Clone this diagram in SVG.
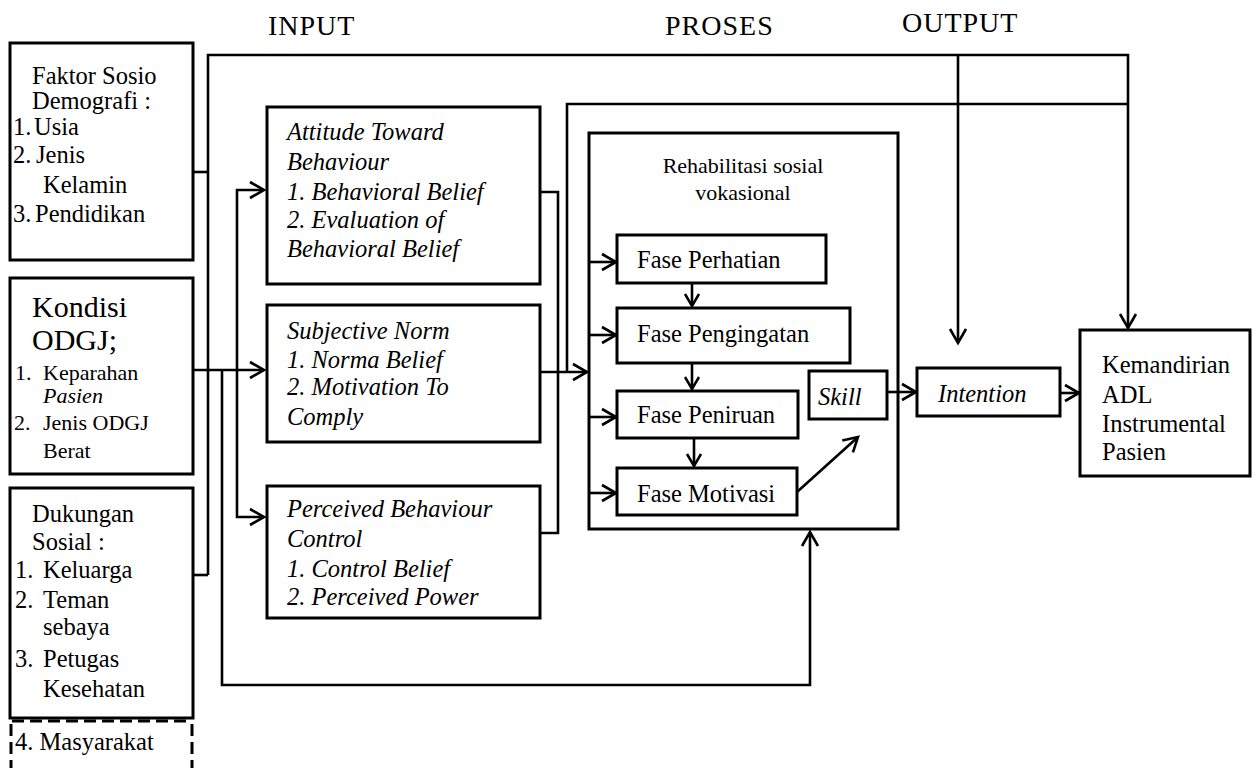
<svg xmlns="http://www.w3.org/2000/svg" width="1258" height="772" viewBox="0 0 1258 772">
  <defs>
    <style>
      .box { fill: none; stroke: #000; stroke-width: 3; }
      .dash { fill: none; stroke: #000; stroke-width: 3; stroke-dasharray: 12 6; }
      .ln { fill: none; stroke: #000; stroke-width: 2.6; stroke-linejoin: miter; }
      .t { font-family: "Liberation Serif", "Times New Roman", serif; font-size: 24.5px; fill: #000; }
      .i { font-style: italic; }
      .h { font-size: 28px; letter-spacing: 1px; }
      .big { font-size: 30px; }
      .sm { font-size: 22px; }
    </style>
    <marker id="arr" markerUnits="userSpaceOnUse" markerWidth="20" markerHeight="20" viewBox="0 0 20 20" refX="17" refY="10" orient="auto">
      <path d="M3,2 L17,10 L3,18" fill="none" stroke="#000" stroke-width="2.6"/>
    </marker>
    <marker id="arrs" markerUnits="userSpaceOnUse" markerWidth="18" markerHeight="18" viewBox="0 0 18 18" refX="14" refY="9" orient="auto">
      <path d="M2,2 L14,9 L2,16" fill="none" stroke="#000" stroke-width="2.5"/>
    </marker>
  </defs>
  <rect width="1258" height="772" fill="#fff"/>

  <!-- column headings -->
  <g id="headings">
    <text class="t h" x="268" y="35">INPUT</text>
    <text class="t h" x="665" y="35">PROSES</text>
    <text class="t h" x="902" y="32">OUTPUT</text>
  </g>

  <!-- connectors -->
  <g id="connectors">
    <!-- socio-demographic and social support feed the main vertical -->
    <polyline class="ln" points="193,172 208,172"/>
    <polyline class="ln" points="193,575 208,575"/>
    <polyline class="ln" points="208,575 208,55 1128,55 1128,328" marker-end="url(#arr)"/>
    <polyline class="ln" points="958,55 958,343" marker-end="url(#arr)"/>
    <!-- ODGJ condition to the three TPB components -->
    <polyline class="ln" points="193,370 264,370" marker-end="url(#arr)"/>
    <polyline class="ln" points="237,370 237,190 264,190" marker-end="url(#arr)"/>
    <polyline class="ln" points="237,370 237,517 264,517" marker-end="url(#arr)"/>
    <!-- ODGJ condition to the rehabilitation block from below -->
    <polyline class="ln" points="222,370 222,685 810,685 810,532" marker-end="url(#arr)"/>
    <!-- TPB components collected into the rehabilitation block -->
    <polyline class="ln" points="540,192 558,192 558,533 540,533"/>
    <polyline class="ln" points="540,372 587,372" marker-end="url(#arr)"/>
    <polyline class="ln" points="567,372 567,104 1128,104"/>
    <!-- phase inputs -->
    <polyline class="ln" points="589,262 616,262" marker-end="url(#arr)"/>
    <polyline class="ln" points="589,335 616,335" marker-end="url(#arr)"/>
    <polyline class="ln" points="589,417 616,417" marker-end="url(#arr)"/>
    <polyline class="ln" points="589,493 616,493" marker-end="url(#arr)"/>
    <!-- phase sequence -->
    <polyline class="ln" points="692,283 692,306" marker-end="url(#arrs)"/>
    <polyline class="ln" points="692,363 692,389" marker-end="url(#arrs)"/>
    <polyline class="ln" points="694,438 694,466" marker-end="url(#arrs)"/>
    <polyline class="ln" points="797,492 858,437" marker-end="url(#arr)"/>
    <!-- outputs -->
    <polyline class="ln" points="887,392 916,392" marker-end="url(#arr)"/>
    <polyline class="ln" points="1060,393 1079,393" marker-end="url(#arr)"/>
  </g>

  <g id="faktor-sosio">
    <rect class="box" x="10" y="43" width="183" height="217"/>
    <text class="t" x="32" y="84">Faktor Sosio</text>
    <text class="t" x="32" y="109">Demografi :</text>
    <text class="t" x="13" y="135">1.<tspan x="34">Usia</tspan></text>
    <text class="t" x="13" y="163">2.<tspan x="36">Jenis</tspan></text>
    <text class="t" x="43" y="193">Kelamin</text>
    <text class="t" x="13" y="222">3.<tspan x="35">Pendidikan</tspan></text>
  </g>

  <g id="kondisi-odgj">
    <rect class="box" x="10" y="278" width="183" height="196"/>
    <text class="t big" x="32" y="317">Kondisi</text>
    <text class="t big" x="32" y="350">ODGJ;</text>
    <text class="t sm" x="15" y="380">1.<tspan x="43">Keparahan</tspan></text>
    <text class="t sm i" x="43" y="403">Pasien</text>
    <text class="t sm" x="14" y="430">2.<tspan x="43">Jenis ODGJ</tspan></text>
    <text class="t sm" x="43" y="458">Berat</text>
  </g>

  <g id="dukungan-sosial">
    <rect class="box" x="10" y="488" width="183" height="230"/>
    <polyline class="dash" points="12,721 191,721"/>
    <polyline class="dash" points="11,724 11,768"/>
    <polyline class="dash" points="192,724 192,768"/>
    <text class="t" x="32" y="522">Dukungan</text>
    <text class="t" x="32" y="550">Sosial :</text>
    <text class="t" x="15" y="578">1.<tspan x="43">Keluarga</tspan></text>
    <text class="t" x="15" y="608">2.<tspan x="43">Teman</tspan></text>
    <text class="t" x="43" y="635">sebaya</text>
    <text class="t" x="15" y="667">3.<tspan x="43">Petugas</tspan></text>
    <text class="t" x="43" y="697">Kesehatan</text>
    <text class="t" x="15" y="750">4. Masyarakat</text>
  </g>

  <g id="attitude">
    <rect class="box" x="267" y="107" width="273" height="177"/>
    <text class="t i" x="287" y="140">Attitude Toward</text>
    <text class="t i" x="287" y="170">Behaviour</text>
    <text class="t i" x="287" y="200">1. Behavioral Belief</text>
    <text class="t i" x="287" y="228">2. Evaluation of</text>
    <text class="t i" x="287" y="257">Behavioral Belief</text>
  </g>

  <g id="subjective-norm">
    <rect class="box" x="267" y="305" width="273" height="137"/>
    <text class="t i" x="287" y="339">Subjective Norm</text>
    <text class="t i" x="287" y="368">1. Norma Belief</text>
    <text class="t i" x="287" y="395">2. Motivation To</text>
    <text class="t i" x="287" y="425">Comply</text>
  </g>

  <g id="perceived-control">
    <rect class="box" x="267" y="486" width="273" height="132"/>
    <text class="t i" x="287" y="517">Perceived Behaviour</text>
    <text class="t i" x="287" y="547">Control</text>
    <text class="t i" x="287" y="577">1. Control Belief</text>
    <text class="t i" x="287" y="605">2. Perceived Power</text>
  </g>

  <g id="rehabilitasi">
    <rect class="box" x="589" y="133" width="309" height="396"/>
    <text class="t sm" x="743" y="173" text-anchor="middle">Rehabilitasi sosial</text>
    <text class="t sm" x="743" y="200" text-anchor="middle">vokasional</text>
  </g>

  <g id="fase-perhatian">
    <rect class="box" x="617" y="235" width="209" height="48"/>
    <text class="t" x="637" y="268">Fase Perhatian</text>
  </g>

  <g id="fase-pengingatan">
    <rect class="box" x="617" y="308" width="233" height="55"/>
    <text class="t" x="637" y="342">Fase Pengingatan</text>
  </g>

  <g id="fase-peniruan">
    <rect class="box" x="617" y="391" width="181" height="47"/>
    <text class="t" x="637" y="423">Fase Peniruan</text>
  </g>

  <g id="fase-motivasi">
    <rect class="box" x="617" y="468" width="180" height="47"/>
    <text class="t" x="637" y="502">Fase Motivasi</text>
  </g>

  <g id="skill">
    <rect class="box" x="809" y="371" width="78" height="48"/>
    <text class="t i" x="818" y="405">Skill</text>
  </g>

  <g id="intention">
    <rect class="box" x="917" y="368" width="143" height="48"/>
    <text class="t i" x="938" y="402">Intention</text>
  </g>

  <g id="kemandirian">
    <rect class="box" x="1080" y="330" width="170" height="146"/>
    <text class="t" x="1102" y="373">Kemandirian</text>
    <text class="t" x="1102" y="403">ADL</text>
    <text class="t" x="1102" y="432">Instrumental</text>
    <text class="t" x="1102" y="460">Pasien</text>
  </g>
</svg>
